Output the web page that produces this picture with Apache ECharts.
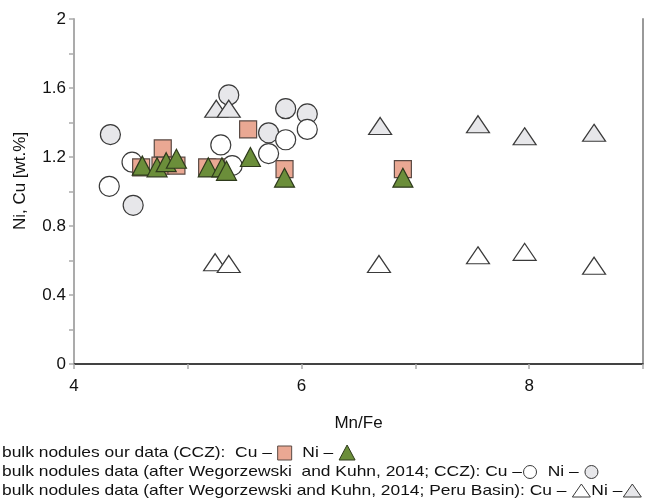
<!DOCTYPE html>
<html>
<head>
<meta charset="utf-8">
<script src="https://cdn.jsdelivr.net/npm/echarts@6/dist/echarts.min.js"></script>
<style>
  html, body { margin: 0; padding: 0; background: #fff; }
  #chart { width: 656px; height: 500px; }
</style>
</head>
<body>
<div id="chart"></div>
<script>
// Axis tick labels
const xTickValues = [4, 5, 6, 7, 8, 9];
const xTickLabels = ['4', '', '6', '', '8', ''];
const yTickValues = [0, 0.4, 0.8, 1.2, 1.6, 2];
const yTickLabels = ['0', '0.4', '0.8', '1.2', '1.6', '2'];

// [Mn/Fe, wt.%] — bulk nodules, our data (CCZ)
const ourCu = [[4.59, 1.14], [4.76, 1.15], [4.78, 1.25], [4.90, 1.15], [5.17, 1.14], [5.25, 1.14], [5.53, 1.36], [5.85, 1.13], [6.89, 1.13]];
const ourNi = [[4.60, 1.15], [4.73, 1.14], [4.81, 1.17], [4.90, 1.19], [5.18, 1.14], [5.30, 1.14], [5.34, 1.12], [5.55, 1.20], [5.85, 1.08], [6.89, 1.08]];

// Wegorzewski and Kuhn (2014), CCZ
const wkCczCu = [[4.51, 1.17], [4.31, 1.03], [5.29, 1.27], [5.39, 1.15], [5.71, 1.22], [5.86, 1.30], [6.05, 1.36]];
const wkCczNi = [[4.32, 1.33], [4.52, 0.92], [5.36, 1.56], [5.71, 1.34], [5.86, 1.48], [6.05, 1.45]];

// Wegorzewski and Kuhn (2014), Peru Basin
const wkPeruCu = [[5.24, 0.59], [5.36, 0.58], [6.68, 0.58], [7.55, 0.63], [7.96, 0.65], [8.57, 0.57]];
const wkPeruNi = [[5.25, 1.48], [5.36, 1.48], [6.69, 1.38], [7.55, 1.39], [7.96, 1.32], [8.57, 1.34]];

const FONT = '"Liberation Sans", Arial, sans-serif';
const C = {
  salmon: '#eaa893', salmonEdge: '#5b4a44',
  green: '#6b8e3a', greenEdge: '#2e3a1c',
  lightGray: '#e7e7ea', edge: '#3a3a3a'
};

const chart = echarts.init(document.getElementById('chart'), null, { renderer: 'canvas' });

function labelFor(values, labels, v) {
  for (let i = 0; i < values.length; i++) {
    if (Math.abs(values[i] - v) < 1e-6) return labels[i];
  }
  return '';
}

// Legend rows: wide-set text pieces followed by small key glyphs
const legendFontSize = 14.5;
const legendStretch = 1.2;
const legendFont = legendFontSize + 'px ' + FONT;
const measureCtx = document.createElement('canvas').getContext('2d');
measureCtx.font = legendFont;
const tw = s => measureCtx.measureText(s).width * legendStretch;

const legendRows = [
  { y: 453, items: [
    { text: 'bulk nodules our data (CCZ):  Cu \u2013 ' }, { key: 'square' },
    { text: '  Ni \u2013 ' }, { key: 'greenTri' } ] },
  { y: 472, items: [
    { text: 'bulk nodules data (after Wegorzewski  and Kuhn, 2014; CCZ): Cu \u2013' }, { key: 'whiteCircle' },
    { text: '  Ni \u2013 ' }, { key: 'grayCircle' } ] },
  { y: 491, items: [
    { text: 'bulk nodules data (after Wegorzewski and Kuhn, 2014; Peru Basin): Cu \u2013 ' }, { key: 'whiteTri' },
    { text: 'Ni \u2013' }, { key: 'grayTri' } ] }
];

function keyGraphic(kind, x, y) {
  switch (kind) {
    case 'square':
      return { el: { type: 'rect', shape: { x: x, y: y - 7, width: 14, height: 14 },
        style: { fill: C.salmon, stroke: C.salmonEdge, lineWidth: 1 } }, w: 14 };
    case 'greenTri':
      return { el: { type: 'polygon', shape: { points: [[x, y + 7], [x + 8, y - 8], [x + 16, y + 7]] },
        style: { fill: C.green, stroke: C.greenEdge, lineWidth: 1 } }, w: 16 };
    case 'whiteCircle':
      return { el: { type: 'circle', shape: { cx: x + 7, cy: y, r: 6.5 },
        style: { fill: '#fff', stroke: C.edge, lineWidth: 1 } }, w: 14 };
    case 'grayCircle':
      return { el: { type: 'circle', shape: { cx: x + 7, cy: y, r: 6.5 },
        style: { fill: C.lightGray, stroke: C.edge, lineWidth: 1 } }, w: 14 };
    case 'whiteTri':
      return { el: { type: 'polygon', shape: { points: [[x, y + 6], [x + 9, y - 7], [x + 18, y + 6]] },
        style: { fill: '#fff', stroke: C.edge, lineWidth: 1 } }, w: 18 };
    case 'grayTri':
      return { el: { type: 'polygon', shape: { points: [[x, y + 6], [x + 9, y - 7], [x + 18, y + 6]] },
        style: { fill: C.lightGray, stroke: C.edge, lineWidth: 1 } }, w: 18 };
  }
}

const legendGraphics = [];
legendRows.forEach(row => {
  let x = 2;
  row.items.forEach(it => {
    if (it.text !== undefined) {
      legendGraphics.push({ type: 'text', x: x, y: row.y, scaleX: legendStretch,
        style: { text: it.text, font: legendFont, fill: '#111', verticalAlign: 'middle', align: 'left' } });
      x += tw(it.text);
    } else {
      const g = keyGraphic(it.key, x + 1, row.y);
      legendGraphics.push(g.el);
      x += g.w + 2;
    }
  });
});

function scatter(name, data, symbol, size, fill, edge) {
  return {
    name: name, type: 'scatter', data: data, symbol: symbol, symbolSize: size,
    itemStyle: { color: fill, borderColor: edge, borderWidth: 1.2, opacity: 1 },
    emphasis: { disabled: true }, animation: false
  };
}

const option = {
  animation: false,
  backgroundColor: '#fff',
  grid: { left: 74, right: 13, top: 19, bottom: 136, containLabel: false },
  xAxis: [{
    type: 'value', min: 4, max: 9, interval: 1,
    name: 'Mn/Fe', nameLocation: 'middle', nameGap: 51,
    nameTextStyle: { fontFamily: FONT, fontSize: 17, color: '#111' },
    axisLine: { lineStyle: { color: '#ababab', width: 2 } },
    axisTick: { show: true, length: 5, lineStyle: { color: '#ababab', width: 1.5 } },
    axisLabel: { fontFamily: FONT, fontSize: 17, color: '#111', margin: 14,
      formatter: v => labelFor(xTickValues, xTickLabels, v) },
    splitLine: { show: false }
  }, {
    type: 'value', position: 'top', min: 4, max: 9,
    axisLine: { show: true, lineStyle: { color: '#222', width: 1.5 } },
    axisTick: { show: false }, axisLabel: { show: false }, splitLine: { show: false }
  }],
  yAxis: [{
    type: 'value', min: 0, max: 2, interval: 0.2,
    axisLine: { show: true, lineStyle: { color: '#ababab', width: 2 } },
    axisTick: { show: true, length: 5, lineStyle: { color: '#ababab', width: 1.5 } },
    axisLabel: { fontFamily: FONT, fontSize: 17, color: '#111', margin: 8,
      formatter: v => labelFor(yTickValues, yTickLabels, v) },
    splitLine: { show: false }
  }, {
    type: 'value', position: 'right', min: 0, max: 2,
    axisLine: { show: true, lineStyle: { color: '#999', width: 2 } },
    axisTick: { show: false }, axisLabel: { show: false }, splitLine: { show: false }
  }],
  graphic: [
    { type: 'text', x: 20, y: 181, rotation: Math.PI / 2,
      style: { text: 'Ni, Cu [wt.%]', font: '17px ' + FONT, fill: '#111', align: 'center', verticalAlign: 'middle' } }
  ].concat(legendGraphics),
  series: [
    scatter('Ni (W&K, CCZ)', wkCczNi, 'circle', 20, C.lightGray, C.edge),
    scatter('Cu (W&K, CCZ)', wkCczCu, 'circle', 20, '#fff', C.edge),
    scatter('Cu (W&K, Peru Basin)', wkPeruCu, 'triangle', [23, 17], '#fff', C.edge),
    scatter('Ni (W&K, Peru Basin)', wkPeruNi, 'triangle', [23, 17], C.lightGray, C.edge),
    scatter('Cu (our data)', ourCu, 'rect', 17, C.salmon, C.salmonEdge),
    scatter('Ni (our data)', ourNi, 'triangle', [20, 19], C.green, C.greenEdge)
  ]
};

chart.setOption(option);
</script>
</body>
</html>
